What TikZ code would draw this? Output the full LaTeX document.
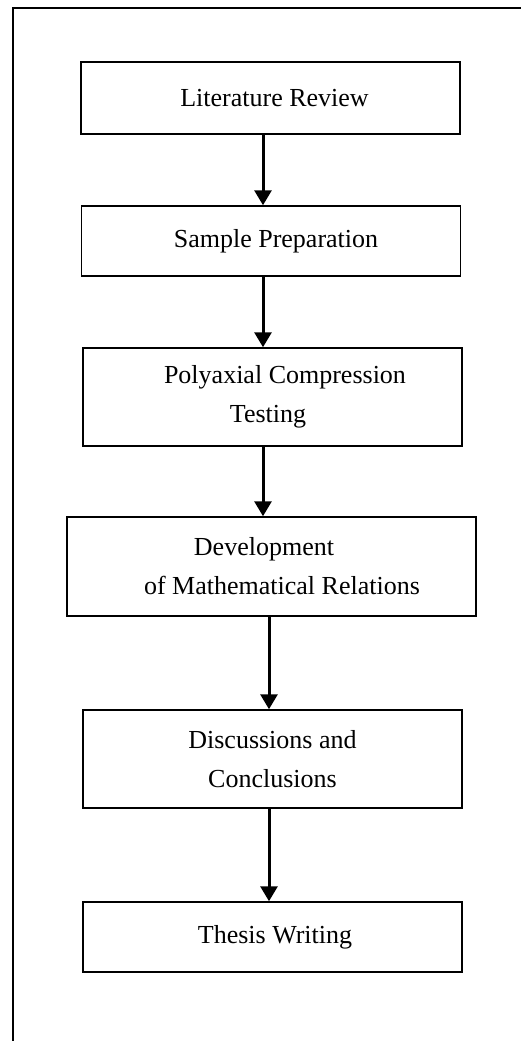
\documentclass[tikz,border=0pt]{standalone}
\usepackage{fontspec}
\setmainfont{Liberation Serif}
\usetikzlibrary{arrows.meta}

\tikzset{
  stage/.style={draw, line width=0.75pt, minimum width=189.5pt, align=center, inner sep=2pt,
    font=\fontsize{13}{19.5}\selectfont},
  flow/.style={line width=1.5pt, -{Triangle[width=8.5pt,length=7.5pt]}},
}

\begin{document}
\begin{tikzpicture}[x=0.5pt,y=-0.5pt]
\useasboundingbox (0,0) rectangle (521,1041);

% outer frame (left and top only)
\draw[line width=1pt] (13,1041) -- (13,8) -- (521,8);

\node[stage, minimum height=36pt] (lit) at (270.5,98) {\hspace*{4pt}Literature Review};
\node[stage, minimum height=35pt] (samp) at (271,241) {\hspace*{5pt}Sample Preparation};
\node[stage, minimum height=49pt] (poly) at (272.5,397) {\hspace*{12.5pt}Polyaxial Compression\\Testing\hspace*{4.5pt}};
\node[stage, minimum height=49.5pt, minimum width=204.5pt] (dev) at (271.5,566.5) {Development\hspace*{7.5pt}\\\hspace*{10.5pt}of Mathematical Relations};
\node[stage, minimum height=49pt] (disc) at (272.5,759) {Discussions and\\Conclusions};
\node[stage, minimum height=35pt] (thes) at (272.5,937) {\hspace*{2.5pt}Thesis Writing};

\draw[flow] ([xshift=-3.75pt]lit.south) -- ([xshift=-4pt]samp.north);
\draw[flow] ([xshift=-4pt]samp.south) -- ([xshift=-4.75pt]poly.north);
\draw[flow] ([xshift=-4.75pt]poly.south) -- ([xshift=-4.25pt]dev.north);
\draw[flow] ([xshift=-1.25pt]dev.south) -- ([xshift=-1.75pt]disc.north);
\draw[flow] ([xshift=-1.75pt]disc.south) -- ([xshift=-1.75pt]thes.north);
\end{tikzpicture}
\end{document}
